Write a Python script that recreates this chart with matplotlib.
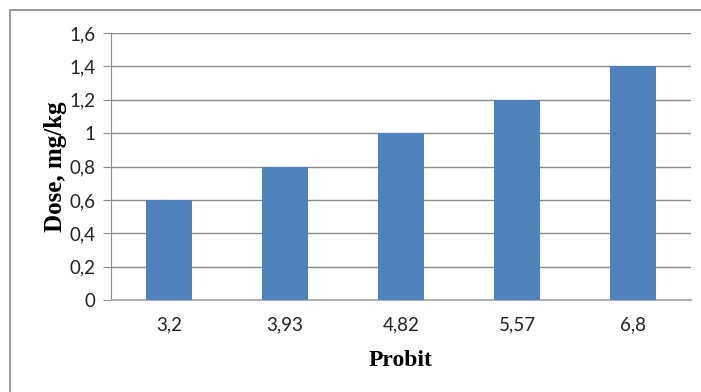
import matplotlib.pyplot as plt
from matplotlib.patches import Rectangle

probit = ['3,2', '3,93', '4,82', '5,57', '6,8']
dose = [0.6, 0.8, 1.0, 1.2, 1.4]
yticks = [0, 0.2, 0.4, 0.6, 0.8, 1.0, 1.2, 1.4, 1.6]
ylabels = ['0', '0,2', '0,4', '0,6', '0,8', '1', '1,2', '1,4', '1,6']

fig = plt.figure(figsize=(7.01, 3.92), dpi=100)
ax = fig.add_axes([111 / 701, 1 - 300 / 392, 580 / 701, 267 / 392])

# outer chart frame (runs off the right and bottom edges)
fig.patches.append(Rectangle((10 / 701, -0.1), 1.1, 1 - 10 / 392 + 0.1,
                             transform=fig.transFigure, fill=False,
                             edgecolor='#8a8a8a', linewidth=1.2))

x = range(len(probit))
ax.bar(x, dose, width=0.4, color='#4f81bd', zorder=3)

ax.set_xlim(-0.5, len(probit) - 0.5)
ax.set_ylim(0, 1.6)
ax.set_yticks(yticks)
ax.set_yticklabels(ylabels)
ax.set_xticks(list(x))
ax.set_xticklabels(probit)

ax.grid(axis='y', color='#8c8c8c', linewidth=1)
ax.set_axisbelow(True)
for s in ['top', 'right']:
    ax.spines[s].set_visible(False)
ax.spines['left'].set_color('#8c8c8c')
ax.spines['bottom'].set_color('#b0b0b0')
ax.spines['bottom'].set_linewidth(1.5)
ax.tick_params(axis='y', length=6, color='#8c8c8c', labelsize=13.5, pad=5)
ax.tick_params(axis='x', length=0, labelsize=13.5, pad=12)
for lab in ax.get_xticklabels() + ax.get_yticklabels():
    lab.set_family('Lato')
    lab.set_color('#222222')

ax.set_xlabel('Probit', family='Liberation Serif', fontweight='bold',
              fontsize=17, labelpad=12)
ax.set_ylabel('Dose, mg/kg', family='Liberation Serif', fontweight='bold',
              fontsize=18, labelpad=2)

fig.savefig('out.png', dpi=100)
